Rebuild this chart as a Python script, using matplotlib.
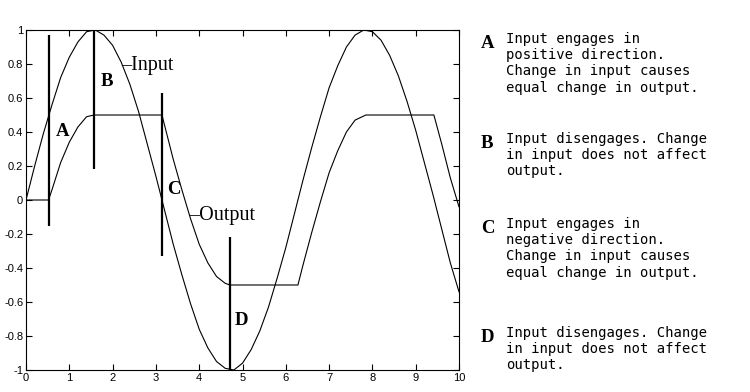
import matplotlib.pyplot as plt

# input sine
x_in = [0.0, 0.2, 0.4, 0.6, 0.8, 1.0, 1.2, 1.4, 1.6, 1.8, 2.0, 2.2, 2.4, 2.6, 2.8,
        3.0, 3.2, 3.4, 3.6, 3.8, 4.0, 4.2, 4.4, 4.6, 4.8, 5.0, 5.2, 5.4, 5.6, 5.8,
        6.0, 6.2, 6.4, 6.6, 6.8, 7.0, 7.2, 7.4, 7.6, 7.8, 8.0, 8.2, 8.4, 8.6, 8.8,
        9.0, 9.2, 9.4, 9.6, 9.8, 10.0]
y_in = [0.00, 0.20, 0.39, 0.56, 0.72, 0.84, 0.93, 0.99, 1.00, 0.97, 0.91, 0.81,
        0.68, 0.52, 0.33, 0.14, -0.06, -0.26, -0.44, -0.61, -0.76, -0.87, -0.95,
        -0.99, -1.00, -0.96, -0.88, -0.77, -0.63, -0.46, -0.28, -0.08, 0.12, 0.31,
        0.49, 0.66, 0.79, 0.90, 0.97, 1.00, 0.99, 0.94, 0.85, 0.73, 0.58, 0.41,
        0.22, 0.03, -0.17, -0.37, -0.54]

# backlash output
x_out = [0.0, 0.52, 0.6, 0.8, 1.0, 1.2, 1.4, 1.57, 3.14, 3.2, 3.4, 3.6, 3.8, 4.0,
         4.2, 4.4, 4.6, 4.71, 6.28, 6.4, 6.6, 6.8, 7.0, 7.2, 7.4, 7.6, 7.85, 9.42,
         9.6, 9.8, 10.0]
y_out = [0.0, 0.0, 0.06, 0.22, 0.34, 0.43, 0.49, 0.50, 0.50, 0.44, 0.24, 0.06,
         -0.11, -0.26, -0.37, -0.45, -0.49, -0.50, -0.50, -0.38, -0.19, -0.01,
         0.16, 0.29, 0.40, 0.47, 0.50, 0.50, 0.33, 0.13, -0.04]

# event markers
marker_x = [0.52, 1.57, 3.14, 4.71]
marker_lo = [-0.15, 0.18, -0.33, -1.0]
marker_hi = [0.97, 1.0, 0.63, -0.22]
letters = ['A', 'B', 'C', 'D']
letter_x = [0.69, 1.73, 3.25, 4.83]
letter_y = [0.40, 0.70, 0.06, -0.71]

notes = [
    'Input engages in\npositive direction.\nChange in input causes\nequal change in output.',
    'Input disengages. Change\nin input does not affect\noutput.',
    'Input engages in\nnegative direction.\nChange in input causes\nequal change in output.',
    'Input disengages. Change\nin input does not affect\noutput.',
]
note_top = [32, 132, 217, 326]  # pixel rows of first line

fig = plt.figure(figsize=(7.5, 3.92), dpi=100)
ax = fig.add_axes([26 / 750, 1 - 370 / 392, 433 / 750, 340 / 392])
ax.plot(x_in, y_in, color='black', lw=0.8)
ax.plot(x_out, y_out, color='black', lw=0.8)
ax.vlines(marker_x, marker_lo, marker_hi, color='black', lw=1.6)

ax.set_xlim(0, 10)
ax.set_ylim(-1, 1)
ax.set_xticks(range(11))
yt = [-1, -0.8, -0.6, -0.4, -0.2, 0, 0.2, 0.4, 0.6, 0.8, 1]
ax.set_yticks(yt)
ax.set_yticklabels(['-1', '-0.8', '-0.6', '-0.4', '-0.2', '0', '0.2', '0.4',
                    '0.6', '0.8', '1'])
ax.tick_params(direction='in', top=True, right=True, length=4, width=0.8,
               labelsize=8, pad=2)
for lab in ax.get_xticklabels() + ax.get_yticklabels():
    lab.set_family('Liberation Sans')
for s in ax.spines.values():
    s.set_linewidth(0.8)

for l, lx, ly in zip(letters, letter_x, letter_y):
    ax.text(lx, ly, l, family='Liberation Serif', weight='bold', fontsize=13.5,
            ha='left', va='center')

ax.text(2.19, 0.79, '\u2013Input', family='Liberation Serif', fontsize=14.5,
        ha='left', va='center')
ax.text(3.77, -0.09, '\u2013Output', family='Liberation Serif', fontsize=14.5,
        ha='left', va='center')

for l, n, top in zip(letters, notes, note_top):
    fig.text(481 / 750, 1 - (top + 3) / 392, l, family='Liberation Serif',
             weight='bold', fontsize=13.5, ha='left', va='top')
    fig.text(506 / 750, 1 - top / 392, n, family='DejaVu Sans Mono',
             fontsize=10, ha='left', va='top', linespacing=1.2)

fig.savefig('out.png', dpi=100)
